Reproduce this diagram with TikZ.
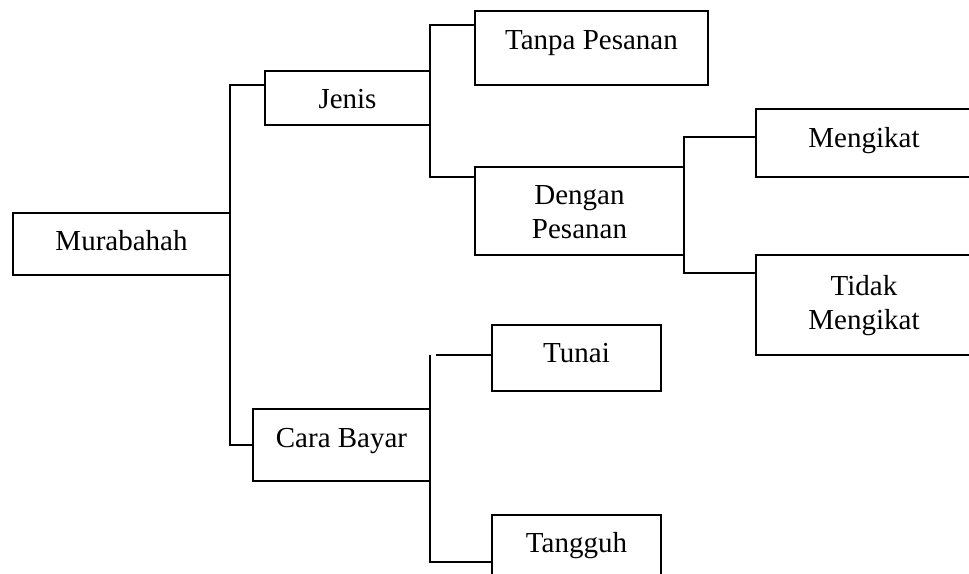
\documentclass[tikz,border=0pt]{standalone}
\usepackage{fontspec}
\setmainfont{Liberation Serif}
\begin{document}
\begin{tikzpicture}[x=1pt,y=-1pt,
  box/.style={draw, line width=1.9pt, rectangle, inner sep=0pt, outer sep=0pt, anchor=north west,
    font=\fontsize{29}{34}\selectfont},
  conn/.style={line width=1.9pt, line join=miter}]
\useasboundingbox[fill=white] (0,0) rectangle (969,573);
% boxes
\node[box, minimum width=217pt, text height=37pt, text depth=25pt] (mur) at (13,213) {Murabahah};
\node[box, minimum width=165pt, text height=37pt, text depth=17pt] (jen) at (265,71) {Jenis};
\node[box, minimum width=177pt, text height=38pt, text depth=34pt] (cb) at (253,409) {Cara Bayar};
\node[box, minimum width=233pt, text height=38pt, text depth=36pt] (tp) at (475,11) {Tanpa Pesanan};
\node[box, minimum width=209pt, text height=37pt, text depth=51pt] (dp) at (475,167)
  {\setlength{\tabcolsep}{0pt}\begin{tabular}[t]{c}Dengan\\Pesanan\end{tabular}};
\node[box, minimum width=169pt, text height=37pt, text depth=29pt] (tun) at (492,325) {Tunai};
\node[box, minimum width=169pt, text height=37pt, text depth=29pt] (tg) at (492,515) {Tangguh};
\node[box, minimum width=216pt, text height=38pt, text depth=30pt] (men) at (756,109) {Mengikat};
\node[box, minimum width=216pt, text height=40pt, text depth=60pt] (tm) at (756,255)
  {\setlength{\tabcolsep}{0pt}\begin{tabular}[t]{c}Tidak\\Mengikat\end{tabular}};
% connector entry points
\coordinate (jenin) at ([yshift=13pt]jen.west);
\coordinate (tpin) at ([yshift=23pt]tp.west);
\coordinate (dpin) at ([yshift=34pt]dp.west);
\coordinate (menin) at ([yshift=6pt]men.west);
\coordinate (tmin) at ([yshift=32pt]tm.west);
\coordinate (tunin) at ([yshift=3pt]tun.west);
\coordinate (tgin) at ([yshift=-14pt]tg.west);
\coordinate (cbtop) at (cb.east |- tunin);
% connectors
\draw[conn] (jenin) -| (mur.east |- cb.west) -- (cb.west);
\draw[conn] (tpin) -| (jen.east |- dpin) -- (dpin);
\draw[conn] (menin) -| (dp.east |- tmin) -- (tmin);
\draw[conn] (cbtop) -- (cb.east |- tgin) -- (tgin);
\draw[conn] ([xshift=6pt]cbtop) -- (tunin);
\end{tikzpicture}
\end{document}
